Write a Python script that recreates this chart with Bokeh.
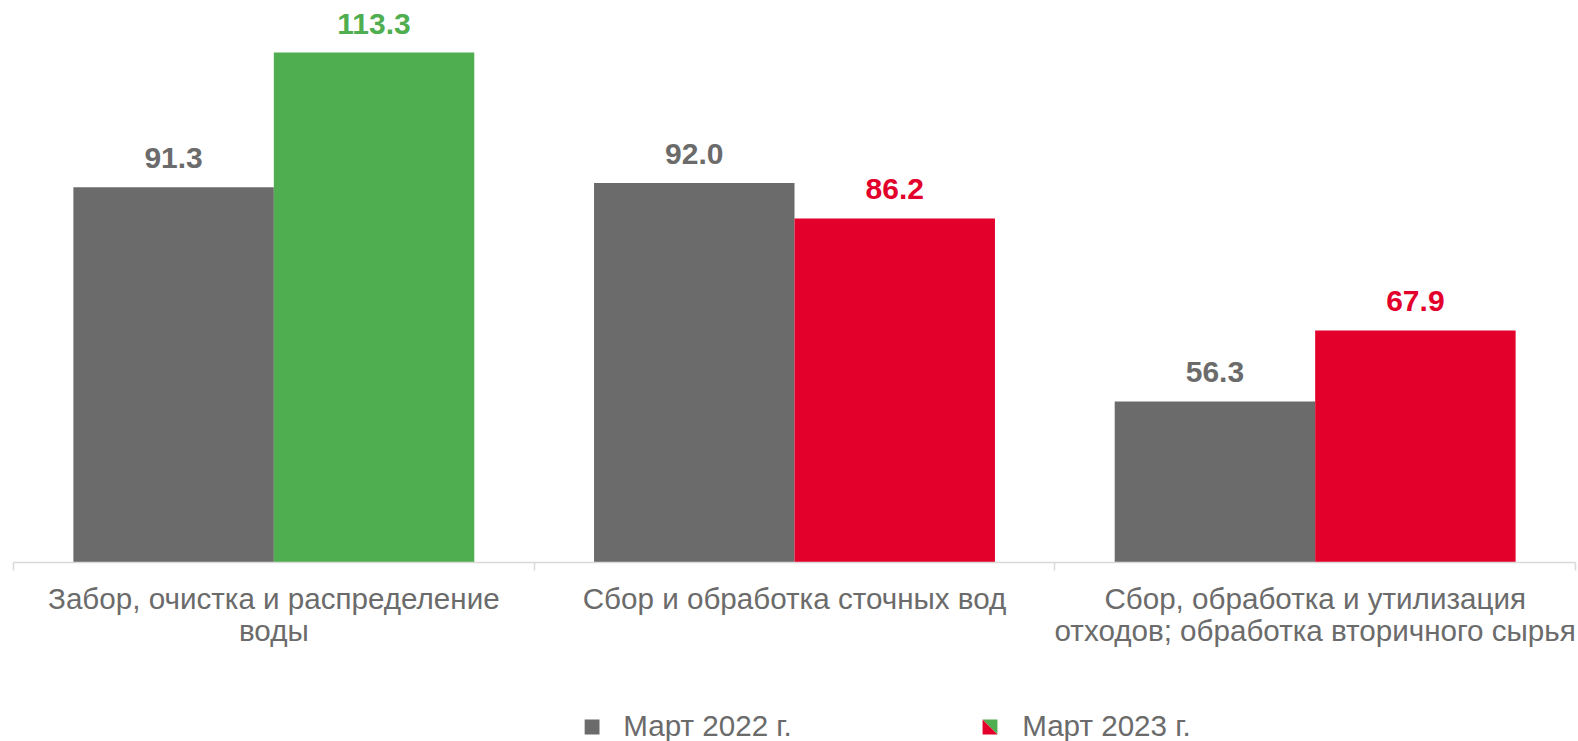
from bokeh.plotting import figure
from bokeh.layouts import column
from bokeh.models import (Range1d, LinearAxis, FixedTicker, ColumnDataSource,
                          LabelSet)
from bokeh.core.properties import value
from bokeh.embed import file_html
from bokeh.resources import INLINE

categories = [
    "Забор, очистка и распределение\nводы",
    "Сбор и обработка сточных вод",
    "Сбор, обработка и утилизация\nотходов; обработка вторичного сырья",
]
mar_2022 = [91.3, 92.0, 56.3]
mar_2023 = [113.3, 86.2, 67.9]
series_names = ["Март 2022 г.", "Март 2023 г."]

GRAY = "#6B6B6B"
GREEN = "#4FAE50"
RED = "#E3002B"
colors_2023 = [GREEN, RED, RED]
TEXT = "#6B6B6B"
FONT = "Liberation Sans"

BAR_W = 0.385
centers = [i + 0.5 for i in range(len(categories))]

p = figure(width=1578, height=700, output_backend="svg", toolbar_location=None,
           x_range=Range1d(0, len(categories)), y_range=Range1d(30, 120),
           x_axis_location=None, y_axis_location=None,
           min_border_left=13, min_border_right=3, min_border_top=11,
           min_border_bottom=138)
p.grid.visible = False
p.outline_line_color = None
p.background_fill_color = "white"
p.border_fill_color = "white"

src22 = ColumnDataSource(dict(x=[c - BAR_W / 2 for c in centers], top=mar_2022,
                              lbl=[f"{v:.1f}" for v in mar_2022],
                              col=[GRAY] * len(mar_2022)))
src23 = ColumnDataSource(dict(x=[c + BAR_W / 2 for c in centers], top=mar_2023,
                              lbl=[f"{v:.1f}" for v in mar_2023],
                              col=colors_2023))

p.vbar(x="x", top="top", bottom=30, width=BAR_W, source=src22,
       fill_color="col", line_color=None)
p.vbar(x="x", top="top", bottom=30, width=BAR_W, source=src23,
       fill_color="col", line_color=None)

for s in (src22, src23):
    p.add_layout(LabelSet(x="x", y="top", text="lbl", source=s,
                          text_align="center", text_baseline="alphabetic",
                          y_offset=19, text_font=value(FONT),
                          text_font_style="bold", text_font_size="30px",
                          text_color="col"))

ax = LinearAxis(ticker=FixedTicker(ticks=centers,
                                   minor_ticks=list(range(len(categories) + 1))),
                major_label_overrides={c: lab for c, lab in zip(centers, categories)})
ax.axis_line_color = "#D9D9D9"
ax.axis_line_width = 1.5
ax.major_tick_line_color = None
ax.major_tick_out = 0
ax.major_tick_in = 0
ax.minor_tick_line_color = "#D9D9D9"
ax.minor_tick_line_width = 1.5
ax.minor_tick_out = 8
ax.minor_tick_in = 0
ax.major_label_standoff = 11
ax.major_label_text_font = FONT
ax.major_label_text_font_size = "29.6px"
ax.major_label_text_line_height = 0.99
ax.major_label_text_color = TEXT
ax.major_label_orientation = "horizontal"
p.add_layout(ax, "below")

# legend strip (pixel coordinates of the strip)
LW, LH = 1578, 41
lg = figure(width=LW, height=LH, output_backend="svg", toolbar_location=None,
            x_range=Range1d(0, LW), y_range=Range1d(0, LH),
            x_axis_location=None, y_axis_location=None,
            min_border_left=0, min_border_right=0, min_border_top=0,
            min_border_bottom=0)
lg.grid.visible = False
lg.outline_line_color = None
lg.border_fill_color = "white"

m1, m2, mb, mt, ms = 577, 979, 7, 22, 15
lg.patches(xs=[[m1, m1 + ms, m1 + ms, m1],
               [m2, m2 + ms, m2 + ms],
               [m2, m2, m2 + ms]],
           ys=[[mb, mb, mt, mt],
               [mt, mt, mb],
               [mt, mb, mb]],
           fill_color=[GRAY, GREEN, RED], line_color=None)
lg.text(x=[m1 + ms + 24, m2 + ms + 25], y=[16, 16], text=series_names,
        text_baseline="middle", text_align="left", text_font=value(FONT),
        text_font_size="29.6px", text_color=TEXT)

open("out.html", "w").write(file_html(column(p, lg, spacing=0), INLINE))
